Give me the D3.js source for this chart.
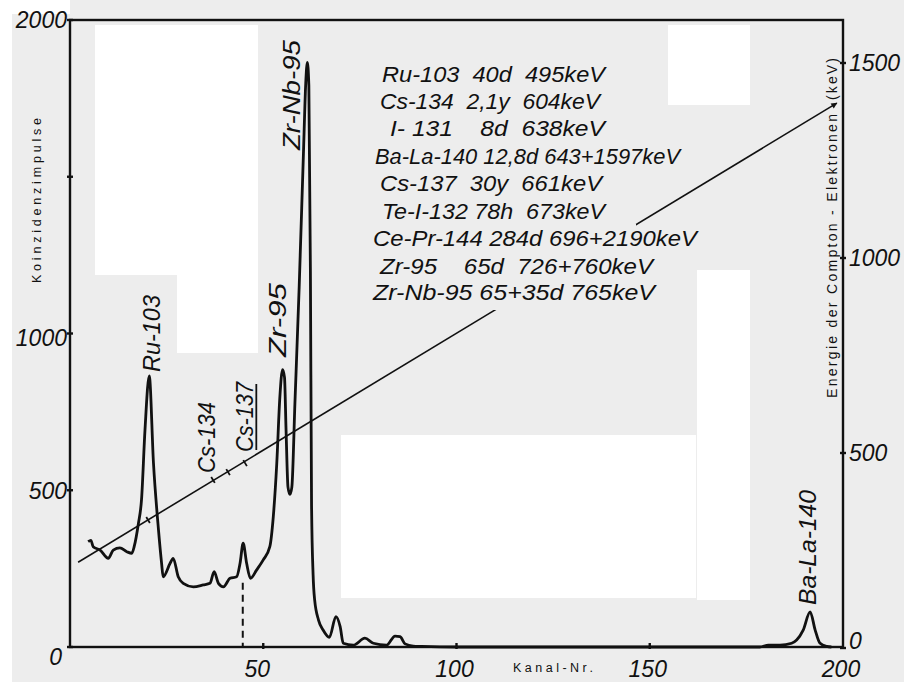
<!DOCTYPE html>
<html>
<head>
<meta charset="utf-8">
<script src="https://cdn.jsdelivr.net/npm/d3@7"></script>
<style>
  html, body { margin: 0; padding: 0; background: #ededed; }
  svg { display: block; }
  text { font-family: "Liberation Sans", Arial, sans-serif; }
</style>
</head>
<body>
<svg id="chart" width="904" height="682"></svg>
<script>
// ---------- DATA ----------
const channels = [4.7, 5.4, 6.0, 7.8, 9.9, 11.2, 12.9, 14.7, 16.0, 16.6, 17.7, 18.5, 19.4, 20.5, 21.6, 22.9, 23.7, 24.1,
  25.9, 26.7, 28.0, 29.3, 31.9, 34.5, 36.2, 37.3, 38.4, 39.7, 41.4, 43.1, 44.0, 44.8, 45.7, 46.7, 48.3, 50.0, 51.7,
  52.6, 53.5, 54.3, 55.0, 55.5, 55.9, 56.4, 56.9, 57.4, 58.2, 59.3, 60.4, 61.0, 61.4, 61.8, 62.2, 62.5, 62.9, 63.3,
  64.3, 65.5, 67.1, 68.8, 69.9, 70.7, 73.3, 76.3, 78.5, 81.9, 84.1, 85.4, 86.7, 88.8, 91, 100, 130, 160, 178.5,
  180.7, 183.7, 186.7, 188.0, 189.7, 191.5, 192.8, 194.0, 195.8, 197];
const counts = [336, 340, 320, 309, 283, 309, 316, 304, 299, 320, 394, 469, 692, 865, 586, 373, 267, 224,
  267, 283, 224, 203, 192, 198, 203, 240, 203, 192, 219, 224, 267, 331, 267, 219, 246, 278, 320,
  416, 586, 798, 885, 860, 692, 510, 487, 510, 780, 1150, 1575, 1800, 1865, 1790, 1200, 450, 230, 150,
  86, 54, 31, 97, 65, 12, 6, 28, 12, 6, 35, 33, 10, 3, 2, 0, 0, 0, 0,
  6, 6, 12, 22, 54, 112, 54, 13, 2, 0];

const leftTicks = [0, 500, 1000, 1500, 2000];
const leftTickLabels = ["0", "500", "1000", "", "2000"];
const rightTicks = [0, 500, 1000, 1500];
const rightTickLabels = ["0", "500", "1000", "1500"];
const bottomTicks = [50, 100, 150, 200];
const bottomTickLabels = ["50", "100", "150", "200"];

// Energy calibration line (Compton electrons, keV)
const calibChannels = [2.1, 198.4];
const calibEnergy = [220, 1397];
const calibMarkChannels = [20.2, 37.0, 40.9, 45.3];
const calibMarkEnergy = [328, 431, 451, 474];

// Peak labels
const peakNames = ["Ru-103", "Cs-134", "Cs-137", "Zr-95", "Zr-Nb-95", "Ba-La-140"];
const peakLabelChannel = [21.2, 35.3, 45.1, 53.7, 57.4, 190.9];
const peakLabelCount = [877, 555, 622, 925, 1585, 134];
const cs137Channel = 44.7;
const cs137DashTop = 205;

// Nuclide table
const isotopes = ["Ru-103", "Cs-134", "I- 131", "Ba-La-140", "Cs-137", "Te-I-132", "Ce-Pr-144", "Zr-95", "Zr-Nb-95"];
const halfLives = ["40d", "2,1y", "8d", "12,8d", "30y", "78h", "284d", "65d", "65+35d"];
const energies = ["495keV", "604keV", "638keV", "643+1597keV", "661keV", "673keV", "696+2190keV", "726+760keV", "765keV"];

const xAxisTitle = "Kanal-Nr.";
const yAxisTitle = "Koinzidenzimpulse";
const y2AxisTitle = "Energie der Compton - Elektronen";
const y2Unit = "(keV)";

// ---------- LAYOUT ----------
const W = 904, H = 682;
const L = 70, R = 843, T = 20, B = 647;
const svg = d3.select("#chart");
const bgGray = "#ededed";

// background patches (scan look)
const bg = svg.append("g");
bg.append("rect").attr("x", 0).attr("y", 0).attr("width", W).attr("height", H).attr("fill", bgGray);
[[0, 0, 12, 682], [0, 0, 70, 14], [95, 25, 163, 250], [177, 275, 81, 78], [668, 25, 82, 80],
 [341, 435, 355, 163], [697, 270, 53, 330]].forEach(r => {
  bg.append("rect").attr("x", r[0]).attr("y", r[1]).attr("width", r[2]).attr("height", r[3]).attr("fill", "#ffffff");
});

const x = d3.scaleLinear().domain([0, 200]).range([L, R]);
const y = d3.scaleLinear().domain([0, 2000]).range([B, T]);
const yR = d3.scaleLinear().domain([0, 1500]).range([648, 63]);

const ink = "#111";
const tickFont = "italic 23px 'Liberation Sans', Arial, sans-serif";

const defs = svg.append("defs");
// clip that leaves out the block of the nuclide table where the calibration line passes under it
defs.append("clipPath").attr("id", "tableHole")
  .append("path").attr("clip-rule", "evenodd")
  .attr("d", `M0,0H${W}V${H}H0Z M490,224V310H636V224Z`);

// frame
svg.append("rect").attr("x", L).attr("y", T).attr("width", R - L).attr("height", B - T)
  .attr("fill", "none").attr("stroke", ink).attr("stroke-width", 2.4);

// left ticks
const gl = svg.append("g");
leftTicks.forEach((v, i) => {
  gl.append("line").attr("x1", L - 3).attr("x2", L + 3).attr("y1", y(v)).attr("y2", y(v))
    .attr("stroke", ink).attr("stroke-width", 2.4);
  if (leftTickLabels[i] && v !== 0) {
    gl.append("text").attr("x", L - 3).attr("y", y(v) + (v === 1000 ? 4 : 0)).attr("dy", "0.36em")
      .attr("text-anchor", "end").style("font", tickFont).attr("fill", ink).text(leftTickLabels[i]);
  }
});
gl.append("text").attr("x", L - 8).attr("y", y(0) + 18).attr("text-anchor", "end")
  .style("font", tickFont).attr("fill", ink).text(leftTickLabels[0]);

// right ticks
const gr = svg.append("g");
rightTicks.forEach((v, i) => {
  gr.append("line").attr("x1", R - 3).attr("x2", R + 3).attr("y1", yR(v)).attr("y2", yR(v))
    .attr("stroke", ink).attr("stroke-width", 2.4);
  gr.append("text").attr("x", R + 6).attr("y", v === 0 ? yR(v) - 7 : yR(v)).attr("dy", "0.36em")
    .style("font", tickFont).attr("fill", ink).text(rightTickLabels[i]);
});

// bottom ticks
const gb = svg.append("g");
bottomTicks.forEach((v, i) => {
  if (v !== 200) gb.append("line").attr("x1", x(v)).attr("x2", x(v)).attr("y1", B - 4).attr("y2", B + 2)
    .attr("stroke", ink).attr("stroke-width", 2.4);
  gb.append("text").attr("x", x(v) - (v === 50 ? 6 : 2)).attr("y", 677).attr("text-anchor", "middle")
    .style("font", tickFont).attr("fill", ink).text(bottomTickLabels[i]);
});

// axis titles
svg.append("text").attr("x", 513).attr("y", 672).attr("textLength", 80)
  .style("font-size", "12.5px").attr("fill", ink).text(xAxisTitle);
svg.append("text").attr("transform", "translate(37,283) rotate(-90)").attr("textLength", 165)
  .attr("dy", "0.35em").style("font-size", "12.5px").attr("fill", ink).text(yAxisTitle);
svg.append("text").attr("transform", "translate(832,398) rotate(-90)").attr("textLength", 284)
  .attr("dy", "0.35em").style("font-size", "14px").attr("fill", ink).text(y2AxisTitle);
svg.append("text").attr("transform", "translate(832,100) rotate(-90)").attr("textLength", 42)
  .attr("dy", "0.35em").style("font-size", "14px").attr("fill", ink).text(y2Unit);

// calibration line with arrow
defs.append("marker").attr("id", "arr").attr("viewBox", "0 0 10 10")
  .attr("refX", 9).attr("refY", 5).attr("markerWidth", 9).attr("markerHeight", 6)
  .attr("markerUnits", "userSpaceOnUse").attr("orient", "auto")
  .append("path").attr("d", "M0,0 L10,5 L0,10 z").attr("fill", ink);
svg.append("g").attr("clip-path", "url(#tableHole)")
  .append("line")
  .attr("x1", x(calibChannels[0])).attr("y1", yR(calibEnergy[0]))
  .attr("x2", x(calibChannels[1])).attr("y2", yR(calibEnergy[1]))
  .attr("stroke", ink).attr("stroke-width", 1.6).attr("marker-end", "url(#arr)");
const ang = Math.atan2(yR(calibEnergy[1]) - yR(calibEnergy[0]), x(calibChannels[1]) - x(calibChannels[0]));
calibMarkChannels.forEach((c, i) => {
  const px = x(c), py = yR(calibMarkEnergy[i]);
  const nx = -Math.sin(ang) * 3.5, ny = Math.cos(ang) * 3.5;
  svg.append("line").attr("x1", px - nx).attr("y1", py - ny).attr("x2", px + nx).attr("y2", py + ny)
    .attr("stroke", ink).attr("stroke-width", 1.8);
});

// Cs-137 dashed marker
svg.append("line").attr("x1", x(cs137Channel)).attr("x2", x(cs137Channel))
  .attr("y1", y(cs137DashTop)).attr("y2", y(0))
  .attr("stroke", ink).attr("stroke-width", 2).attr("stroke-dasharray", "7,5");

// spectrum
const pts = channels.map((c, i) => [c, counts[i]]);
svg.append("path").datum(pts)
  .attr("d", d3.line().x(d => x(d[0])).y(d => y(d[1])).curve(d3.curveMonotoneX))
  .attr("fill", "none").attr("stroke", ink).attr("stroke-width", 2.8).attr("stroke-linejoin", "round");

// peak labels (rotated)
const peakLen = [77, 71, 70, 74, 110, 115];
peakNames.forEach((n, i) => {
  const px = x(peakLabelChannel[i]), py = y(peakLabelCount[i]);
  svg.append("text").attr("transform", `translate(${px},${py}) rotate(-90)`)
    .attr("dy", "0.36em").style("font", "italic 23px 'Liberation Sans', Arial, sans-serif")
    .attr("fill", ink).attr("textLength", peakLen[i]).attr("lengthAdjust", "spacingAndGlyphs").text(n);
  if (n === "Cs-137") {
    svg.append("line").attr("x1", px + 12).attr("x2", px + 12).attr("y1", py - 2).attr("y2", py - peakLen[i] + 2)
      .attr("stroke", ink).attr("stroke-width", 1.8);
  }
});

// nuclide table: one text per row
const rowBase = [82, 109, 136, 164, 191, 219, 246, 274, 300];
const rowSpan = [[382, 605], [380, 600], [390, 605], [375, 680], [380, 602], [382, 605], [373, 697], [380, 653], [373, 655]];
const rowSep = [["  ", "  "], ["  ", "  "], ["    ", "  "], [" ", " "], ["  ", "  "], [" ", "  "], [" ", " "], ["    ", "  "], [" ", " "]];
const tbl = svg.append("g").style("font", "italic 22px 'Liberation Sans', Arial, sans-serif");
isotopes.forEach((iso, r) => {
  const s = iso + rowSep[r][0] + halfLives[r] + rowSep[r][1] + energies[r];
  tbl.append("text").attr("x", rowSpan[r][0]).attr("y", rowBase[r])
    .attr("textLength", rowSpan[r][1] - rowSpan[r][0]).attr("lengthAdjust", "spacingAndGlyphs")
    .attr("fill", ink).attr("stroke", bgGray).attr("stroke-width", 6)
    .attr("paint-order", "stroke").attr("stroke-linejoin", "round")
    .style("white-space", "pre").text(s);
});
</script>
</body>
</html>
